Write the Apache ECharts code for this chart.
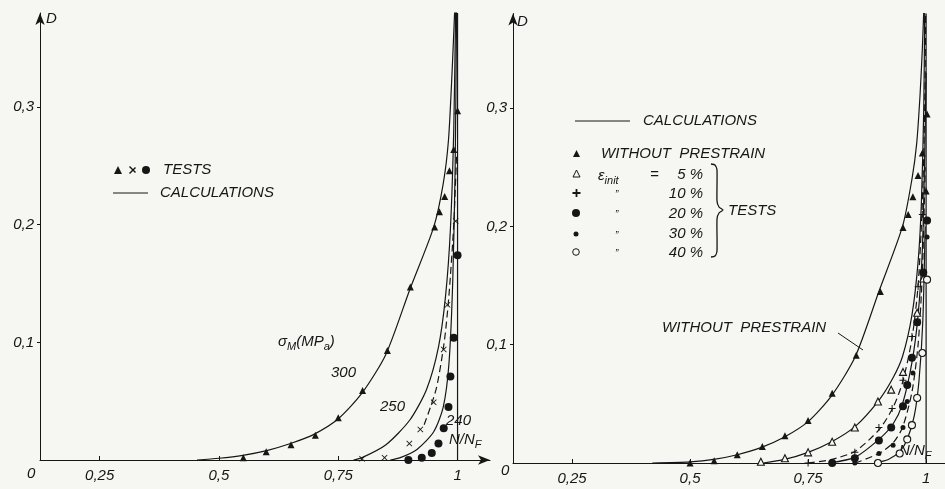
<!DOCTYPE html>
<html><head><meta charset="utf-8">
<script src="https://cdn.jsdelivr.net/npm/echarts@6/dist/echarts.min.js"></script>
<style>html,body{margin:0;padding:0;background:#f6f6f3}#c{width:945px;height:489px}</style>
</head><body><div id="c"></div>
<script>
// ---------- data ----------
const xTicks = [0.25, 0.5, 0.75, 1];
const yTicks = [0.1, 0.2, 0.3];

// Left panel: calculations
const calc300 = [[0.454,0],[0.50,0.0015],[0.55,0.004],[0.60,0.008],[0.65,0.014],[0.70,0.022],[0.75,0.035],[0.80,0.057],[0.85,0.090],[0.90,0.145],[0.95,0.198],[0.97,0.235],[0.981,0.272],[0.989,0.334],[0.994,0.382]];
const calc250 = [[0.782,0],[0.80,0.002],[0.85,0.013],[0.90,0.034],[0.935,0.060],[0.96,0.096],[0.975,0.140],[0.985,0.196],[0.992,0.280],[0.996,0.382]];
const calc240 = [[0.859,0],[0.88,0.002],[0.915,0.009],[0.95,0.024],[0.97,0.045],[0.982,0.082],[0.99,0.153],[0.995,0.250],[0.998,0.382]];
const fit250 = [[0.93,0.03],[0.955,0.06],[0.972,0.10],[0.982,0.14],[0.992,0.20],[0.998,0.26]];
// Left panel: tests
const tests300 = [[0.551,0.002],[0.599,0.007],[0.651,0.013],[0.702,0.021],[0.750,0.036],[0.801,0.059],[0.853,0.093],[0.901,0.147],[0.952,0.198],[0.962,0.211],[0.973,0.224],[0.983,0.246],[0.992,0.264],[1.000,0.297]];
const tests250 = [[0.800,0.001],[0.847,0.002],[0.899,0.014],[0.922,0.026],[0.950,0.049],[0.971,0.094],[0.979,0.132],[0.996,0.203]];
const tests240 = [[0.897,0.0],[0.925,0.002],[0.946,0.006],[0.960,0.014],[0.971,0.027],[0.981,0.045],[0.985,0.071],[0.992,0.104],[1.000,0.174]];

// Right panel: calculations
const calcNoPre = [[0.42,0],[0.50,0.001],[0.55,0.003],[0.60,0.007],[0.65,0.013],[0.70,0.022],[0.75,0.035],[0.80,0.057],[0.85,0.090],[0.90,0.145],[0.95,0.200],[0.97,0.240],[0.98,0.270],[0.987,0.310],[0.992,0.350],[0.995,0.382]];
const calc5 = [[0.655,0],[0.70,0.003],[0.75,0.009],[0.80,0.018],[0.85,0.031],[0.90,0.053],[0.93,0.072],[0.95,0.090],[0.97,0.125],[0.983,0.170],[0.99,0.220],[0.995,0.300],[0.997,0.382]];
const calc10 = [[0.75,0],[0.80,0.003],[0.85,0.010],[0.90,0.028],[0.93,0.047],[0.95,0.068],[0.97,0.105],[0.983,0.150],[0.992,0.220],[0.997,0.300],[0.999,0.382]];
const calc20 = [[0.795,0],[0.85,0.005],[0.90,0.020],[0.93,0.033],[0.95,0.050],[0.97,0.085],[0.983,0.125],[0.992,0.180],[0.997,0.260],[1.0,0.33]];
const calc30 = [[0.85,0],[0.90,0.008],[0.93,0.017],[0.95,0.030],[0.97,0.060],[0.983,0.100],[0.992,0.160],[0.998,0.250]];
const calc40 = [[0.89,0],[0.92,0.003],[0.945,0.010],[0.96,0.020],[0.975,0.040],[0.985,0.070],[0.993,0.120],[0.998,0.200]];
// Right panel: tests
const testsNoPre = [[0.500,0.0],[0.551,0.002],[0.600,0.007],[0.653,0.014],[0.701,0.023],[0.750,0.036],[0.801,0.059],[0.852,0.091],[0.903,0.145],[0.951,0.199],[0.962,0.210],[0.972,0.225],[0.983,0.243],[0.992,0.262],[1.000,0.230],[1.002,0.295]];
const tests5 = [[0.650,0.001],[0.701,0.004],[0.750,0.009],[0.801,0.018],[0.849,0.030],[0.898,0.052],[0.926,0.062],[0.951,0.077],[0.981,0.127],[0.994,0.156]];
const tests10 = [[0.750,0.0],[0.849,0.009],[0.900,0.030],[0.928,0.046],[0.951,0.070],[0.970,0.107],[0.983,0.149],[0.992,0.210]];
const tests20 = [[0.801,0.0],[0.849,0.004],[0.900,0.019],[0.926,0.030],[0.951,0.048],[0.960,0.066],[0.970,0.089],[0.981,0.119],[0.994,0.161],[1.002,0.205]];
const tests30 = [[0.849,0.0],[0.900,0.008],[0.930,0.015],[0.951,0.030],[0.960,0.052],[0.972,0.076],[1.002,0.191]];
const tests40 = [[0.898,0.0],[0.944,0.008],[0.960,0.020],[0.970,0.032],[0.981,0.055],[0.992,0.093],[1.002,0.155]];
const asymptote = [[1,0],[1,0.38]];

// ---------- styling ----------
const INK = '#161616';
const BG = '#f6f6f3';
const FONT = '"Liberation Sans", Arial, sans-serif';
const CROSS = 'path://M1,0 L5,4 L9,0 L10,1 L6,5 L10,9 L9,10 L5,6 L1,10 L0,9 L4,5 L0,1 Z';
const PLUS = 'path://M4.3,0 H5.7 V4.3 H10 V5.7 H5.7 V10 H4.3 V5.7 H0 V4.3 H4.3 Z';
const fmt = v => String(v).replace('.', ',');

function xAx(idx, max, arrow) {
  return {type:'value', gridIndex:idx, min:0.125, max:max,
    axisLine:{show:true, lineStyle:{color:INK,width:1}, symbol: arrow ? ['none','arrow'] : 'none', symbolSize:[7,12]},
    axisTick:{show:true, inside:true, length:4, customValues:xTicks, lineStyle:{color:INK}},
    axisLabel:{customValues:xTicks, formatter:fmt, color:INK, fontSize:15, fontStyle:'italic', fontFamily:FONT, margin:8},
    splitLine:{show:false}};
}
function yAx(idx) {
  return {type:'value', gridIndex:idx, min:0, max:0.38,
    axisLine:{show:true, onZero:false, lineStyle:{color:INK,width:1}, symbol:['none','arrow'], symbolSize:[7,12]},
    axisTick:{show:true, length:3, customValues:yTicks, lineStyle:{color:INK}},
    axisLabel:{customValues:yTicks, formatter:fmt, color:INK, fontSize:15, fontStyle:'italic', fontFamily:FONT, margin:6},
    splitLine:{show:false}};
}
function curve(data, ax, dashed) {
  return {type:'line', xAxisIndex:ax, yAxisIndex:ax, data:data, showSymbol:false, symbol:'none',
    smooth:0.25, clip:true,
    lineStyle:{color:INK, width:1.2, type: dashed ? [7,4] : 'solid'}, silent:true, z:2};
}
function pts(data, ax, symbol, size, open) {
  return {type:'scatter', xAxisIndex:ax, yAxisIndex:ax, data:data, symbol:symbol, symbolSize:size,
    itemStyle: open ? {color:BG, borderColor:INK, borderWidth:1.1, opacity:1} : {color:INK, opacity:1},
    silent:true, z:3};
}

const T = (text, x, y, extra) => ({type:'text', x:x, y:y, style:Object.assign({text:text, fill:INK,
  font:'italic 15px ' + FONT, verticalAlign:'middle', align:'left'}, extra || {})});

const richStyle = {b:{font:'italic 15px ' + FONT, fill:INK}, s:{font:'italic 11px ' + FONT, fill:INK, verticalAlign:'bottom', padding:[9,0,0,0]}};

const graphics = [
  // left panel texts
  T('D', 46, 19),
  {type:'polygon', shape:{points:[[114,174],[118,166],[122,174]]}, style:{fill:INK}},
  {type:'polygon', shape:{points:[[129,167],[135,173],[136,172],[130,166]]}, style:{fill:INK}},
  {type:'polygon', shape:{points:[[129,173],[135,167],[136,168],[130,174]]}, style:{fill:INK}},
  {type:'circle', shape:{cx:146, cy:170, r:4}, style:{fill:INK}},
  T('TESTS', 163, 170),
  {type:'line', shape:{x1:113, y1:193, x2:148, y2:193}, style:{stroke:INK, lineWidth:1.2}},
  T('CALCULATIONS', 160, 193),
  {type:'text', x:278, y:342, style:{text:'{b|σ}{s|M}{b|(MP}{s|a}{b|)}', rich:richStyle, verticalAlign:'middle', fill:INK}},
  T('300', 331, 373),
  T('250', 380, 407),
  T('240', 446, 421),
  {type:'text', x:449, y:440, style:{text:'{b|N/N}{s|F}', rich:richStyle, verticalAlign:'middle', fill:INK}},
  T('0', 27, 474),
  // right panel texts
  T('D', 517, 22),
  {type:'line', shape:{x1:575, y1:121, x2:630, y2:121}, style:{stroke:INK, lineWidth:1.2}},
  T('CALCULATIONS', 643, 121),
  {type:'polygon', shape:{points:[[573,157],[576.5,150],[580,157]]}, style:{fill:INK}},
  T('WITHOUT  PRESTRAIN', 601, 154),
  {type:'polygon', shape:{points:[[573,177],[576.5,170],[580,177]]}, style:{fill:BG, stroke:INK, lineWidth:1}},
  {type:'text', x:598, y:176, style:{text:'{b|ε}{s|init}', rich:richStyle, verticalAlign:'middle', fill:INK}},
  T('=', 650, 175),
  T('5 %', 703, 175, {align:'right'}),
  {type:'polygon', shape:{points:[[575.6,189],[577.4,189],[577.4,192.1],[580.5,192.1],[580.5,193.9],[577.4,193.9],[577.4,197],[575.6,197],[575.6,193.9],[572.5,193.9],[572.5,192.1],[575.6,192.1]]}, style:{fill:INK}},
  T('\u201D', 615, 195, {font:'italic 10px ' + FONT}),
  T('10 %', 703, 194, {align:'right'}),
  {type:'circle', shape:{cx:576, cy:213, r:4}, style:{fill:INK}},
  T('\u201D', 615, 215, {font:'italic 10px ' + FONT}),
  T('20 %', 703, 214, {align:'right'}),
  {type:'circle', shape:{cx:576, cy:234, r:2.5}, style:{fill:INK}},
  T('\u201D', 615, 236, {font:'italic 10px ' + FONT}),
  T('30 %', 703, 234, {align:'right'}),
  {type:'circle', shape:{cx:576, cy:252, r:3.3}, style:{fill:BG, stroke:INK, lineWidth:1}},
  T('\u201D', 615, 254, {font:'italic 10px ' + FONT}),
  T('40 %', 703, 253, {align:'right'}),
  {type:'polyline', shape:{points:[[711,164],[715,165],[717,170],[717,201],[719,207],[723,210],[719,213],[717,219],[717,251],[715,256],[711,257]], smooth:0.2}, style:{stroke:INK, lineWidth:1.3, fill:'none'}},
  T('TESTS', 728, 211),
  T('WITHOUT  PRESTRAIN', 662, 328),
  {type:'line', shape:{x1:838, y1:333, x2:863, y2:350}, style:{stroke:INK, lineWidth:1}},
  {type:'text', x:899, y:451, style:{text:'{b|N/N}{s|F}', rich:richStyle, verticalAlign:'middle', fill:INK}},
  T('0', 501, 471)
];

const chart = echarts.init(document.getElementById('c'), null, {renderer:'canvas'});
chart.setOption({
  backgroundColor:BG,
  animation:false,
  grid:[
    {left:40, top:13, width:450, bottom:29},
    {left:513, top:13.5, right:0, bottom:26}
  ],
  xAxis:[xAx(0, 1.068, true), xAx(1, 1.04, false)],
  yAxis:[yAx(0), yAx(1)],
  series:[
    curve(calc300, 0), curve(calc250, 0), curve(calc240, 0), curve(fit250, 0, true), curve(asymptote, 0),
    pts(tests300, 0, 'triangle', 7), pts(tests250, 0, CROSS, 6), pts(tests240, 0, 'circle', 8),
    curve(calcNoPre, 1), curve(calc5, 1), curve(calc10, 1, true), curve(calc20, 1), curve(calc30, 1, true), curve(calc40, 1), curve(asymptote, 1),
    pts(testsNoPre, 1, 'triangle', 7), pts(tests5, 1, 'triangle', 7, true), pts(tests10, 1, PLUS, 7),
    pts(tests20, 1, 'circle', 8), pts(tests30, 1, 'circle', 5), pts(tests40, 1, 'circle', 7, true)
  ],
  graphic: graphics
});
</script></body></html>
